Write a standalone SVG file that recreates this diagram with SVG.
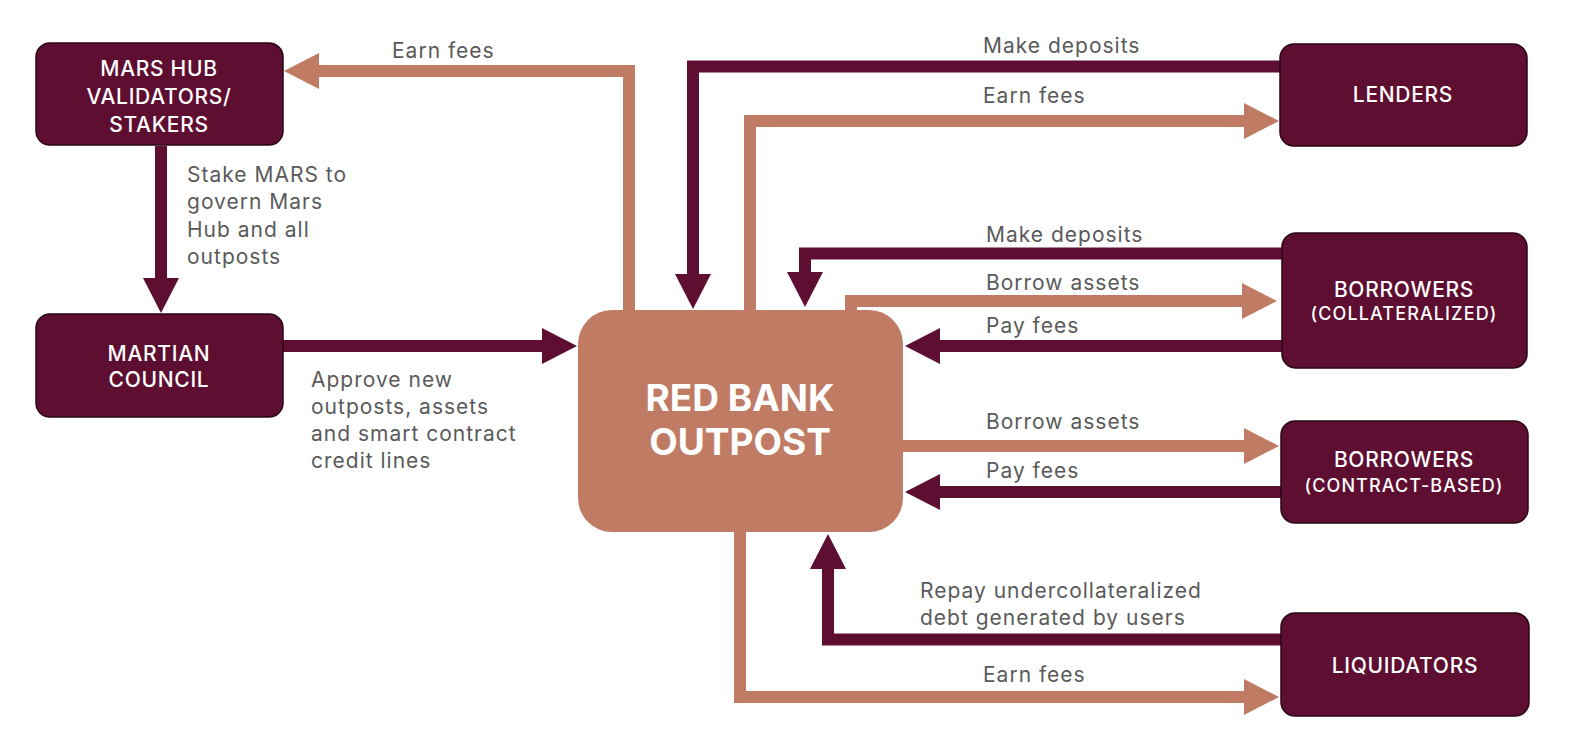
<svg xmlns="http://www.w3.org/2000/svg" width="1586" height="752" viewBox="0 0 1586 752">
<style>
.node{fill:#5E0E30;stroke:#2A0614;stroke-width:1.5}
.bank{fill:#C07B64}
.nt{font-family:Inter,"Liberation Sans",sans-serif;font-size:21px;letter-spacing:0.7px;fill:#FFFFFF;text-anchor:middle;font-weight:500}
.sub{font-size:18px;letter-spacing:1.1px}
.bt{font-family:Inter,"Liberation Sans",sans-serif;font-size:37px;fill:#FFFFFF;text-anchor:middle;font-weight:700}
.lbl{font-family:Inter,"Liberation Sans",sans-serif;font-size:21px;letter-spacing:1px;fill:#5A5A5A}
.m{fill:none;stroke:#5E0E30;stroke-width:12}
.s{fill:none;stroke:#C07B64;stroke-width:12}
</style>
<defs>
<marker id="am" markerUnits="userSpaceOnUse" markerWidth="36" markerHeight="36" refX="0" refY="18" orient="auto" overflow="visible"><path d="M0,0 L35,18 L0,36 z" fill="#5E0E30"/></marker>
<marker id="as" markerUnits="userSpaceOnUse" markerWidth="36" markerHeight="36" refX="0" refY="18" orient="auto" overflow="visible"><path d="M0,0 L35,18 L0,36 z" fill="#C07B64"/></marker>
</defs>
<rect width="1586" height="752" fill="#FFFFFF"/>
<g id="connectors">
<path class="s" d="M629 312 V71 H319" marker-end="url(#as)"/>
<path class="m" d="M161 146 V278" marker-end="url(#am)"/>
<path class="m" d="M283 346 H542" marker-end="url(#am)"/>
<path class="m" d="M1281 66.5 H693 V274" marker-end="url(#am)"/>
<path class="s" d="M750 312 V121 H1244" marker-end="url(#as)"/>
<path class="m" d="M1283 253.5 H805 V272" marker-end="url(#am)"/>
<path class="s" d="M851 314 V301 H1242" marker-end="url(#as)"/>
<path class="m" d="M1283 346 H940" marker-end="url(#am)"/>
<path class="s" d="M900 446 H1244" marker-end="url(#as)"/>
<path class="m" d="M1283 492 H940" marker-end="url(#am)"/>
<path class="m" d="M1282 639.5 H828 V569" marker-end="url(#am)"/>
<path class="s" d="M740 528 V697 H1244" marker-end="url(#as)"/>
</g>
<g id="labels">
<text class="lbl" x="392" y="58">Earn fees</text>
<text class="lbl" x="187" y="182">Stake MARS to</text>
<text class="lbl" x="187" y="209">govern Mars</text>
<text class="lbl" x="187" y="237">Hub and all</text>
<text class="lbl" x="187" y="264">outposts</text>
<text class="lbl" x="311" y="387">Approve new</text>
<text class="lbl" x="311" y="414">outposts, assets</text>
<text class="lbl" x="311" y="441">and smart contract</text>
<text class="lbl" x="311" y="468">credit lines</text>
<text class="lbl" x="983" y="53">Make deposits</text>
<text class="lbl" x="983" y="103">Earn fees</text>
<text class="lbl" x="986" y="242">Make deposits</text>
<text class="lbl" x="986" y="290">Borrow assets</text>
<text class="lbl" x="986" y="333">Pay fees</text>
<text class="lbl" x="986" y="429">Borrow assets</text>
<text class="lbl" x="986" y="478">Pay fees</text>
<text class="lbl" x="920" y="598">Repay undercollateralized</text>
<text class="lbl" x="920" y="625">debt generated by users</text>
<text class="lbl" x="983" y="682">Earn fees</text>
</g>
<g id="mars-hub">
<rect class="node" x="36" y="43" width="247" height="102" rx="14"/>
<text class="nt" x="159" y="76">MARS HUB</text>
<text class="nt" x="159" y="104">VALIDATORS/</text>
<text class="nt" x="159" y="132">STAKERS</text>
</g>
<g id="martian-council">
<rect class="node" x="36" y="314" width="247" height="103" rx="14"/>
<text class="nt" x="159" y="361">MARTIAN</text>
<text class="nt" x="159" y="387">COUNCIL</text>
</g>
<g id="red-bank">
<rect class="bank" x="578" y="310" width="325" height="222" rx="34"/>
<text class="bt" x="740" y="411">RED BANK</text>
<text class="bt" x="740" y="455">OUTPOST</text>
</g>
<g id="lenders">
<rect class="node" x="1280" y="44" width="247" height="102" rx="14"/>
<text class="nt" x="1403" y="102">LENDERS</text>
</g>
<g id="borrowers-collateralized">
<rect class="node" x="1282" y="233" width="245" height="135" rx="14"/>
<text class="nt" x="1404" y="297">BORROWERS</text>
<text class="nt sub" x="1404" y="320">(COLLATERALIZED)</text>
</g>
<g id="borrowers-contract">
<rect class="node" x="1281" y="421" width="247" height="102" rx="14"/>
<text class="nt" x="1404" y="467">BORROWERS</text>
<text class="nt sub" x="1404" y="492">(CONTRACT-BASED)</text>
</g>
<g id="liquidators">
<rect class="node" x="1281" y="613" width="248" height="103" rx="14"/>
<text class="nt" x="1405" y="673">LIQUIDATORS</text>
</g>
</svg>
